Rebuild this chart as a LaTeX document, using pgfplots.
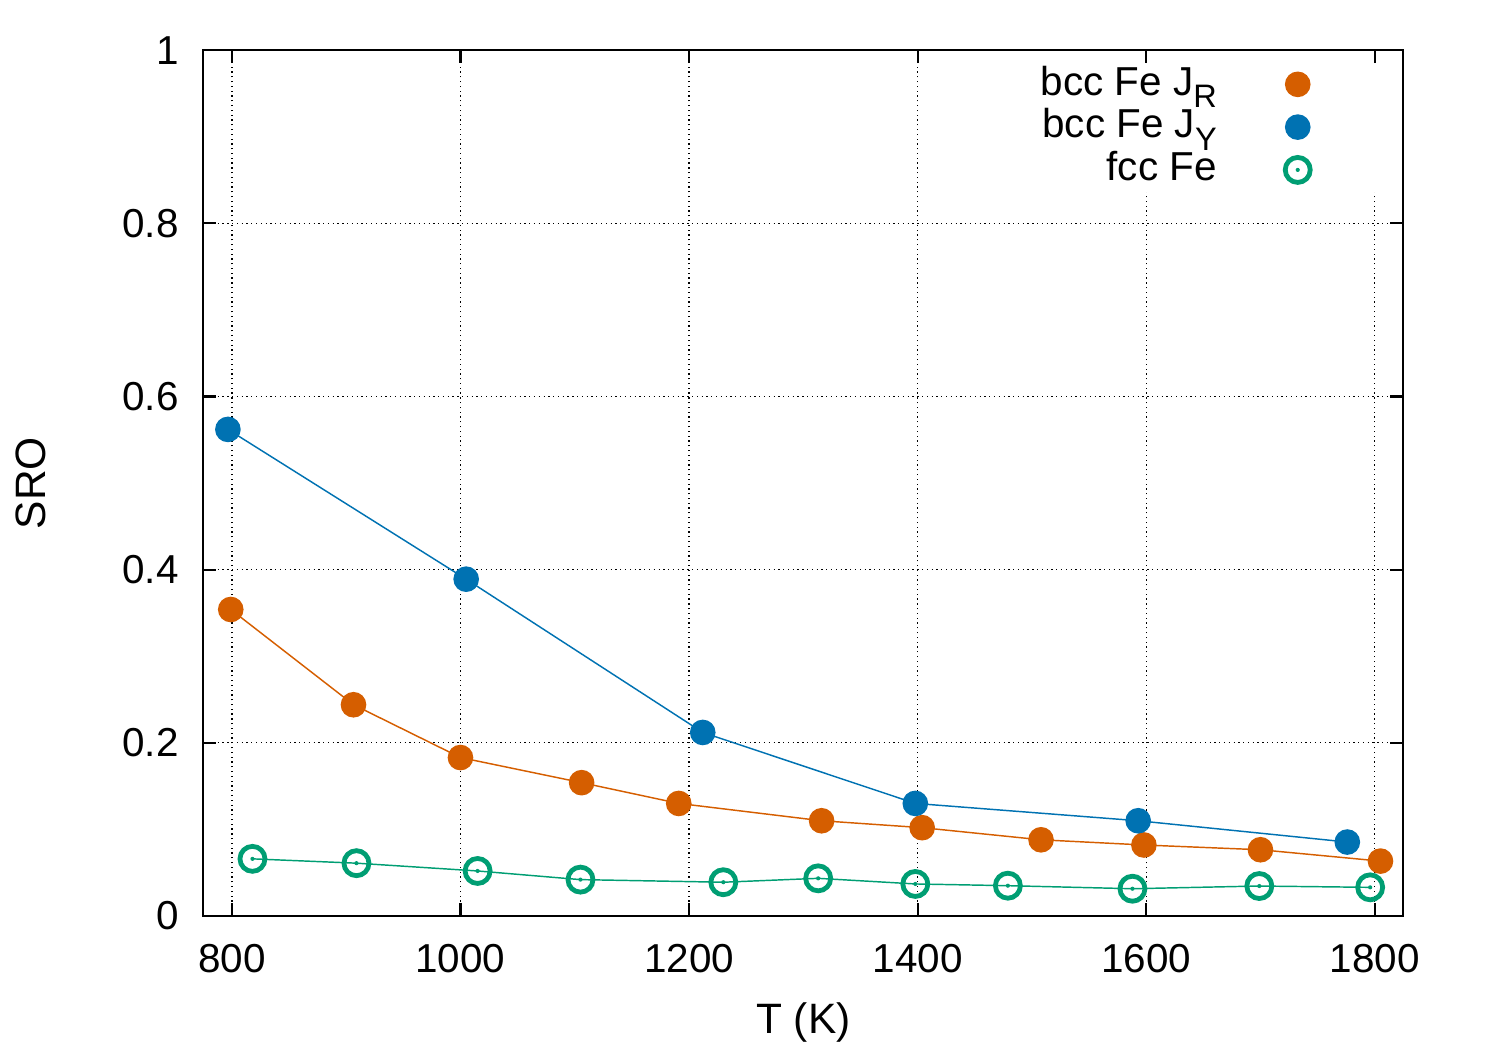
\documentclass[border=0pt]{standalone}
\usepackage{fontspec}
\setmainfont{Liberation Sans}
\usepackage{pgfplots}
\pgfplotsset{compat=1.18}
\definecolor{cR}{HTML}{D55E00}
\definecolor{cY}{HTML}{0072B2}
\definecolor{cF}{HTML}{009E73}
\pgfdeclareplotmark{ringdot}{%
  \pgfpathcircle{\pgfpointorigin}{\pgfplotmarksize}\pgfusepathqstroke
  \pgfpathcircle{\pgfpointorigin}{0.5pt}\pgfusepathqfill}
\newcommand{\lsub}[1]{\raisebox{-3pt}{\fontsize{7.8}{8}\selectfont #1}}
\begin{document}
\begin{tikzpicture}
\begin{axis}[
 scale only axis, width=288pt, height=207.8pt,
 xmin=775, xmax=1825, ymin=0, ymax=1,
 xtick={800,1000,1200,1400,1600,1800},
 ytick={0,0.2,0.4,0.6,0.8,1},
 /pgf/number format/assume math mode=true,
 /pgf/number format/1000 sep={},
 tick label style={font=\fontsize{9.7}{11}\selectfont},
 xticklabel style={anchor=base, yshift=-13.6pt},
 yticklabel style={anchor=east, inner sep=0pt, xshift=-5.76pt},
 major tick length=3.1pt,
 tick style={black, line width=0.5pt},
 axis line style={line width=0.5pt},
 grid=major,
 major grid style={black, line width=0.3pt, dash pattern=on 0.3pt off 0.85pt},
 xlabel={T (K)}, ylabel={SRO},
 label style={font=\fontsize{10.2}{12}\selectfont},
 xlabel style={at={(axis description cs:0.5,-0.1362)}, anchor=base},
 ylabel style={at={(axis description cs:-0.1438,0.5)}, anchor=center, inner sep=0pt},
 legend cell align=right, legend plot pos=right,
 legend style={draw=none, fill=white, inner xsep=12pt, inner ysep=0pt,
   at={(axis description cs:1,1)}, anchor=north east, xshift=-4.6pt, yshift=-3.1pt,
   row sep=0pt, column sep=10.9pt,
   nodes={inner sep=0pt, text height=7.5pt, text depth=2.77pt},
   font=\fontsize{9.7}{11}\selectfont},
 legend image code/.code={\path[draw=none,fill=none] (0cm,0cm) rectangle (0.6cm,0.1pt); \draw[#1] plot[only marks] coordinates {(0.3cm,0.235pt)};},
]
\addplot[cR, line width=0.35pt, mark=*, mark size=2.9pt, mark options={solid, fill=cR}] coordinates {
 (799,0.354) (906.4,0.244) (1000,0.183) (1106,0.154) (1191,0.130) (1316,0.110)
 (1404,0.102) (1508,0.088) (1598,0.082) (1700,0.0765) (1805,0.0634)};
\addlegendentry{bcc Fe J\lsub{R}}
\addplot[cY, line width=0.35pt, mark=*, mark size=2.9pt, mark options={solid, fill=cY}] coordinates {
 (796.5,0.562) (1005,0.389) (1212,0.212) (1398,0.130) (1593,0.110) (1776,0.0854)};
\addlegendentry{bcc Fe J\lsub{Y}}
\addplot[cF, line width=0.35pt, mark=ringdot, mark size=3.0pt, mark options={solid, line width=1.15pt, fill=cF}] coordinates {
 (818,0.066) (909,0.061) (1015,0.052) (1105,0.042) (1230,0.039) (1313,0.0435)
 (1398,0.037) (1479,0.035) (1588,0.0315) (1699,0.0346) (1796,0.0331)};
\addlegendentry{fcc Fe}
\end{axis}
\path[use as bounding box] (-48.8pt,-32.16pt) rectangle (311.2pt,219.84pt);
\end{tikzpicture}
\end{document}
